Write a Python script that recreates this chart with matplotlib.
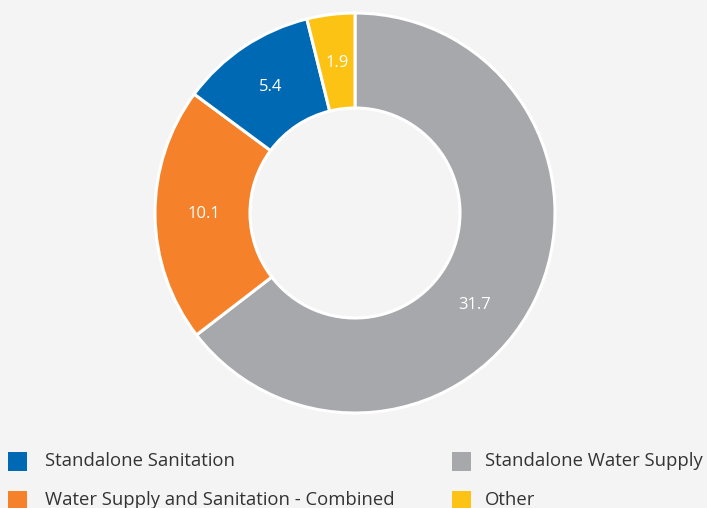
import numpy as np
import matplotlib.pyplot as plt
from matplotlib.patches import Rectangle

# Data
labels = ["Standalone Water Supply", "Water Supply and Sanitation - Combined",
          "Standalone Sanitation", "Other"]
values = [31.7, 10.1, 5.4, 1.9]
colors = ["#a7a8ab", "#f5822a", "#0069b4", "#fdc314"]

# legend order (row by row)
legend_order = ["Standalone Sanitation", "Standalone Water Supply",
                "Water Supply and Sanitation - Combined", "Other"]

BG = "#f4f4f4"
plt.rcParams['font.family'] = ['Open Sans', 'DejaVu Sans']

W, H = 707, 508
fig = plt.figure(figsize=(W / 100, H / 100), dpi=100, facecolor=BG)

# pie axes: centre (355, 213) px, radius 200 px
cx, cy, r = 355, 213, 200
ax = fig.add_axes([(cx - r) / W, (H - cy - r) / H, 2 * r / W, 2 * r / H])
ax.set_facecolor(BG)

wedges, texts = ax.pie(values, colors=colors, startangle=90, counterclock=False,
                       radius=1.0,
                       wedgeprops=dict(width=0.475, edgecolor="white", linewidth=2.2))
ax.set_xlim(-1, 1)
ax.set_ylim(-1, 1)
ax.set_aspect("equal")
ax.axis("off")

# value labels in the middle of the ring (big slice label sits a bit lower)
label_shift = [-11.5, 0, 0, 0]
total = sum(values)
start = 90
for v, sh in zip(values, label_shift):
    ang = start - 360 * v / total / 2 + sh
    start -= 360 * v / total
    x = 0.755 * np.cos(np.deg2rad(ang))
    y = 0.755 * np.sin(np.deg2rad(ang))
    ax.text(x, y, f"{v}", color="white", ha="center", va="center", fontsize=12)

# legend drawn manually
sq_x = [8, 452]
txt_x = [45, 485]
row_y = [461, 500]
for i, name in enumerate(legend_order):
    col = i % 2
    row = i // 2
    c = colors[labels.index(name)]
    sy = row_y[row]
    fig.patches.append(Rectangle((sq_x[col] / W, (H - sy - 9.5) / H), 19 / W, 19 / H,
                                 transform=fig.transFigure, facecolor=c,
                                 edgecolor="none"))
    fig.text(txt_x[col] / W, (H - sy) / H, name, ha="left", va="center",
             fontsize=13.3, color="#333333")

fig.savefig("out.png", dpi=100, facecolor=BG)
